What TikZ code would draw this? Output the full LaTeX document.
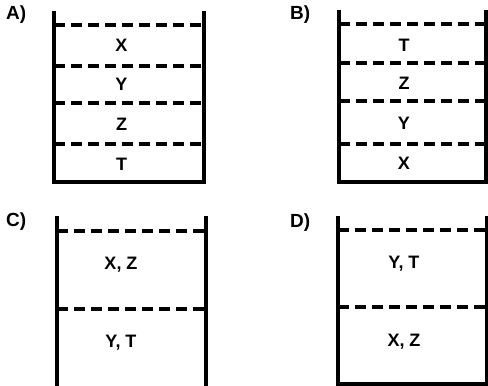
\documentclass[tikz,border=0pt]{standalone}
\usepackage{fontspec}
\setmainfont{Liberation Sans}
\begin{document}
\begin{tikzpicture}[x=1pt,y=-1pt,
  wall/.style={line width=3.5pt,line join=miter,line cap=butt},
  sep/.style={line width=3.5pt,dash pattern=on 11pt off 6pt},
  lbl/.style={font=\fontsize{18}{21}\selectfont\bfseries,inner sep=0pt,anchor=center},
  tag/.style={font=\fontsize{19}{22}\selectfont\bfseries,inner sep=0pt,anchor=west}]
\useasboundingbox (0,0) rectangle (488,386);
% A
\node[tag] (la) at (6,15) {A)};
\draw[wall] (54,11) -- (54,182) -- (204,182) -- (204,11);
\foreach \y in {25,66,103,144} \draw[sep] (54,\y) -- (204,\y);
\node[lbl] (ax) at (121.5,45) {X};
\node[lbl] (ay) at (121.5,84) {Y};
\node[lbl] (az) at (121.5,124) {Z};
\node[lbl] (at) at (121.5,164) {T};
% B
\node[tag] (lb) at (290,15) {B)};
\draw[wall] (339,10) -- (339,182) -- (486,182) -- (486,10);
\foreach \y in {24,63,101,144} \draw[sep] (339,\y) -- (486,\y);
\node[lbl] (bt) at (404,45) {T};
\node[lbl] (bz) at (404,83) {Z};
\node[lbl] (by) at (404,123) {Y};
\node[lbl] (bx) at (404,163) {X};
% C
\node[tag] (lc) at (6,222) {C)};
\draw[wall] (57,216) -- (57,386);
\draw[wall] (206,216) -- (206,386);
\foreach \y in {231,309} \draw[sep] (57,\y) -- (206,\y);
\node[lbl] (cxz) at (121,265) {X, Z};
\node[lbl] (cyt) at (121,343) {Y, T};
% D
\node[tag] (ld) at (290,223) {D)};
\draw[wall] (338,216) -- (338,384) -- (486.5,384) -- (486.5,216);
\foreach \y in {230,307} \draw[sep] (338,\y) -- (486.5,\y);
\node[lbl] (dyt) at (404,264) {Y, T};
\node[lbl] (dxz) at (404,342) {X, Z};
\end{tikzpicture}
\end{document}
